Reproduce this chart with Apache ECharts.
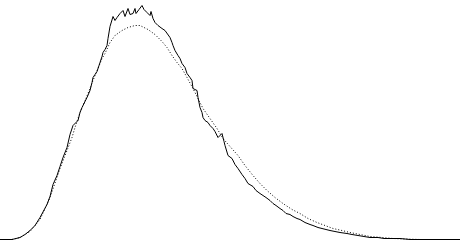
<!DOCTYPE html>
<html>
<head>
<meta charset="utf-8">
<script src="https://cdn.jsdelivr.net/npm/echarts@6/dist/echarts.min.js"></script>
<style>html,body{margin:0;padding:0;background:#fff}#c{width:460px;height:243px}</style>
</head>
<body>
<div id="c"></div>
<script>
// Observed (noisy) histogram curve
var histX = [0,12,16,20,25,30,35,40,42,47,50,53,57,60,63,67,70,73,75,78,80,82,85,87,90,92,93,95,97,99,100,102,103,105,107,108,110,112,113,115,117,119,120,122,123,125,127,128,130,132,133,135,136,137,139,140,142,144,145,147,148,150,151,152,153,155,157,158,160,162,165,167,170,172,173,175,178,180,182,185,187,190,192,193,195,197,198,200,202,203,205,208,210,213,215,218,220,222,224,225,228,230,232,235,238,240,242,245,248,250,253,256,260,263,266,270,273,276,280,283,286,290,293,297,300,305,310,313,318,322,326,330,335,340,347,352,358,364,370,378,384,390,400,410,420,460];
var histH = [0,0,1,2,5,9,14,22,23,35,43,55,64,73,82,92,105,114,115,119,127,132,138,142,149,157,162,165,168,174,177,183,187,190,194,201,213,212,223,219,222,224,226,225,229,223,224,231,225,227,226,231,226,224,230,232,234,230,231,227,227,224,228,229,221,217,216,214,212,211,209,207,202,197,194,189,184,181,176,172,166,162,159,151,150,149,142,132,127,122,119,117,114,111,108,102,104,106,98,94,84,82,81,75,71,69,65,61,56,54,53,49,46,44,42,39,36,34,31,29,26,25,23,21,20,17,15,14,12,11,10,9,8,7,6,5,4,3,2,2,1,1,1,0,0,0];
// Smooth (theoretical) density curve
var pdfX = [0,12,20,30,40,50,60,67,72,75,80,83,88,93,98,102,105,110,115,122,128,135,140,142,148,155,162,167,172,177,182,187,193,198,203,210,217,223,230,238,245,253,260,267,275,283,292,300,308,317,325,333,342,350,360,370,382,393,405,420,460];
var pdfH = [0,0,2,8,20,42,71,89,102,112,127,134,146,159,171,181,186,197,204,209,212,214,214,213,210,205,198,192,184,177,171,162,151,141,131,121,111,101,93,84,74,64,56,49,42,36,30,26,21,17,14,11,9,7,5,3,2,1,0.5,0,0];

function pairs(xs, ys){ return xs.map(function(x,i){ return [x, ys[i]]; }); }

var chart = echarts.init(document.getElementById('c'), null, {renderer:'canvas'});
chart.setOption({
  animation: false,
  backgroundColor: '#fff',
  grid: {left: 0, right: 0, top: 0, bottom: 3.5},
  xAxis: {type: 'value', min: 0, max: 460, show: false},
  yAxis: {type: 'value', min: 0, max: 239.5, show: false},
  series: [
    {type: 'line', data: pairs(pdfX, pdfH), symbol: 'none', silent: true,
     lineStyle: {color: '#000', width: 1, type: [1, 2]}},
    {type: 'line', data: pairs(histX, histH), symbol: 'none', silent: true,
     lineStyle: {color: '#000', width: 1}}
  ]
});
</script>
</body>
</html>
